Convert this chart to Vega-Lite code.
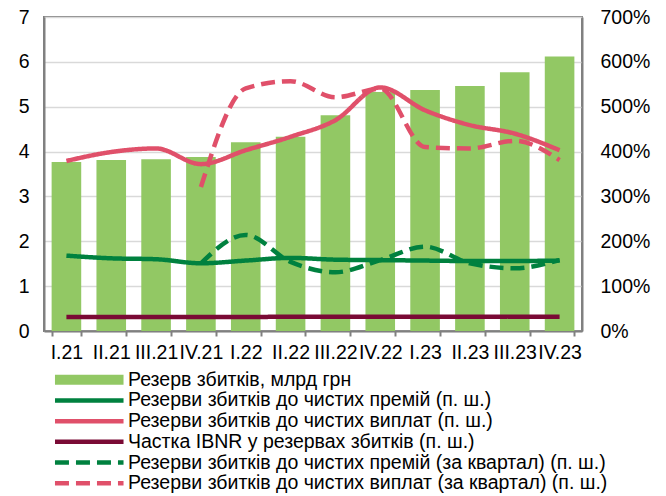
{
  "$schema": "https://vega.github.io/schema/vega-lite/v6.json",
  "width": 538,
  "height": 314,
  "autosize": "none",
  "padding": {"left": 44, "top": 17, "right": 84, "bottom": 165},
  "config": {
    "font": "Liberation Sans",
    "view": {"stroke": "#808080", "strokeWidth": 2},
    "axis": {"labelFont": "Liberation Sans", "labelFontSize": 19.5, "labelColor": "#000000", "domainColor": "#808080", "domainWidth": 2, "gridColor": "#D9D9D9", "gridWidth": 1.5, "tickColor": "#808080", "tickWidth": 2}
  },
  "datasets": {
    "bars": [
      {"q": "I.21", "series": "Резерв збитків, млрд грн", "reserve": 3.77},
      {"q": "II.21", "series": "Резерв збитків, млрд грн", "reserve": 3.81},
      {"q": "III.21", "series": "Резерв збитків, млрд грн", "reserve": 3.83},
      {"q": "IV.21", "series": "Резерв збитків, млрд грн", "reserve": 3.88},
      {"q": "I.22", "series": "Резерв збитків, млрд грн", "reserve": 4.21},
      {"q": "II.22", "series": "Резерв збитків, млрд грн", "reserve": 4.33},
      {"q": "III.22", "series": "Резерв збитків, млрд грн", "reserve": 4.81},
      {"q": "IV.22", "series": "Резерв збитків, млрд грн", "reserve": 5.33},
      {"q": "I.23", "series": "Резерв збитків, млрд грн", "reserve": 5.37},
      {"q": "II.23", "series": "Резерв збитків, млрд грн", "reserve": 5.46},
      {"q": "III.23", "series": "Резерв збитків, млрд грн", "reserve": 5.77},
      {"q": "IV.23", "series": "Резерв збитків, млрд грн", "reserve": 6.12}
    ],
    "lines": [
      {"q": "I.21", "series": "Резерви збитків до чистих премій (п. ш.)", "value": 168},
      {"q": "II.21", "series": "Резерви збитків до чистих премій (п. ш.)", "value": 162},
      {"q": "III.21", "series": "Резерви збитків до чистих премій (п. ш.)", "value": 160},
      {"q": "IV.21", "series": "Резерви збитків до чистих премій (п. ш.)", "value": 151},
      {"q": "I.22", "series": "Резерви збитків до чистих премій (п. ш.)", "value": 157},
      {"q": "II.22", "series": "Резерви збитків до чистих премій (п. ш.)", "value": 163},
      {"q": "III.22", "series": "Резерви збитків до чистих премій (п. ш.)", "value": 159},
      {"q": "IV.22", "series": "Резерви збитків до чистих премій (п. ш.)", "value": 158},
      {"q": "I.23", "series": "Резерви збитків до чистих премій (п. ш.)", "value": 157},
      {"q": "II.23", "series": "Резерви збитків до чистих премій (п. ш.)", "value": 156},
      {"q": "III.23", "series": "Резерви збитків до чистих премій (п. ш.)", "value": 156},
      {"q": "IV.23", "series": "Резерви збитків до чистих премій (п. ш.)", "value": 157},
      {"q": "I.21", "series": "Резерви збитків до чистих виплат (п. ш.)", "value": 379},
      {"q": "II.21", "series": "Резерви збитків до чистих виплат (п. ш.)", "value": 399},
      {"q": "III.21", "series": "Резерви збитків до чистих виплат (п. ш.)", "value": 407},
      {"q": "IV.21", "series": "Резерви збитків до чистих виплат (п. ш.)", "value": 372},
      {"q": "I.22", "series": "Резерви збитків до чистих виплат (п. ш.)", "value": 403},
      {"q": "II.22", "series": "Резерви збитків до чистих виплат (п. ш.)", "value": 433},
      {"q": "III.22", "series": "Резерви збитків до чистих виплат (п. ш.)", "value": 470},
      {"q": "IV.22", "series": "Резерви збитків до чистих виплат (п. ш.)", "value": 543},
      {"q": "I.23", "series": "Резерви збитків до чистих виплат (п. ш.)", "value": 492},
      {"q": "II.23", "series": "Резерви збитків до чистих виплат (п. ш.)", "value": 459},
      {"q": "III.23", "series": "Резерви збитків до чистих виплат (п. ш.)", "value": 440},
      {"q": "IV.23", "series": "Резерви збитків до чистих виплат (п. ш.)", "value": 403},
      {"q": "I.21", "series": "Частка IBNR у резервах збитків (п. ш.)", "value": 31},
      {"q": "II.21", "series": "Частка IBNR у резервах збитків (п. ш.)", "value": 31},
      {"q": "III.21", "series": "Частка IBNR у резервах збитків (п. ш.)", "value": 31},
      {"q": "IV.21", "series": "Частка IBNR у резервах збитків (п. ш.)", "value": 31},
      {"q": "I.22", "series": "Частка IBNR у резервах збитків (п. ш.)", "value": 31},
      {"q": "II.22", "series": "Частка IBNR у резервах збитків (п. ш.)", "value": 32},
      {"q": "III.22", "series": "Частка IBNR у резервах збитків (п. ш.)", "value": 32},
      {"q": "IV.22", "series": "Частка IBNR у резервах збитків (п. ш.)", "value": 32},
      {"q": "I.23", "series": "Частка IBNR у резервах збитків (п. ш.)", "value": 32},
      {"q": "II.23", "series": "Частка IBNR у резервах збитків (п. ш.)", "value": 32},
      {"q": "III.23", "series": "Частка IBNR у резервах збитків (п. ш.)", "value": 32},
      {"q": "IV.23", "series": "Частка IBNR у резервах збитків (п. ш.)", "value": 32},
      {"q": "IV.21", "series": "Резерви збитків до чистих премій (за квартал) (п. ш.)", "value": 151},
      {"q": "I.22", "series": "Резерви збитків до чистих премій (за квартал) (п. ш.)", "value": 214},
      {"q": "II.22", "series": "Резерви збитків до чистих премій (за квартал) (п. ш.)", "value": 154},
      {"q": "III.22", "series": "Резерви збитків до чистих премій (за квартал) (п. ш.)", "value": 131},
      {"q": "IV.22", "series": "Резерви збитків до чистих премій (за квартал) (п. ш.)", "value": 158},
      {"q": "I.23", "series": "Резерви збитків до чистих премій (за квартал) (п. ш.)", "value": 188},
      {"q": "II.23", "series": "Резерви збитків до чистих премій (за квартал) (п. ш.)", "value": 151},
      {"q": "III.23", "series": "Резерви збитків до чистих премій (за квартал) (п. ш.)", "value": 140},
      {"q": "IV.23", "series": "Резерви збитків до чистих премій (за квартал) (п. ш.)", "value": 158},
      {"q": "IV.21", "series": "Резерви збитків до чистих виплат (за квартал) (п. ш.)", "value": 321},
      {"q": "I.22", "series": "Резерви збитків до чистих виплат (за квартал) (п. ш.)", "value": 541},
      {"q": "II.22", "series": "Резерви збитків до чистих виплат (за квартал) (п. ш.)", "value": 557},
      {"q": "III.22", "series": "Резерви збитків до чистих виплат (за квартал) (п. ш.)", "value": 521},
      {"q": "IV.22", "series": "Резерви збитків до чистих виплат (за квартал) (п. ш.)", "value": 540},
      {"q": "I.23", "series": "Резерви збитків до чистих виплат (за квартал) (п. ш.)", "value": 410},
      {"q": "II.23", "series": "Резерви збитків до чистих виплат (за квартал) (п. ш.)", "value": 407},
      {"q": "III.23", "series": "Резерви збитків до чистих виплат (за квартал) (п. ш.)", "value": 424},
      {"q": "IV.23", "series": "Резерви збитків до чистих виплат (за квартал) (п. ш.)", "value": 381}
    ]
  },
  "encoding": {
    "x": {
      "field": "q",
      "type": "ordinal",
      "sort": ["I.21", "II.21", "III.21", "IV.21", "I.22", "II.22", "III.22", "IV.22", "I.23", "II.23", "III.23", "IV.23"],
      "scale": {"paddingInner": 0.34, "paddingOuter": 0.17},
      "axis": {"title": null, "labelAngle": 0, "labelOverlap": false, "tickBand": "extent", "tickSize": 5, "labelPadding": 7, "grid": false}
    }
  },
  "layer": [
    {
      "data": {"name": "bars"},
      "mark": {"type": "bar"},
      "encoding": {
        "y": {
          "field": "reserve",
          "type": "quantitative",
          "scale": {"domain": [0, 7]},
          "axis": {"title": null, "orient": "left", "values": [0, 1, 2, 3, 4, 5, 6, 7], "ticks": false, "labelPadding": 15, "grid": true}
        },
        "color": {
          "field": "series",
          "type": "nominal",
          "scale": {
            "domain": ["Резерв збитків, млрд грн", "Резерви збитків до чистих премій (п. ш.)", "Резерви збитків до чистих виплат (п. ш.)", "Частка IBNR у резервах збитків (п. ш.)", "Резерви збитків до чистих премій (за квартал) (п. ш.)", "Резерви збитків до чистих виплат (за квартал) (п. ш.)"],
            "range": ["#92C864", "#00813F", "#E0506A", "#7A0A35", "#00813F", "#E0506A"]
          },
          "legend": {
            "title": null,
            "orient": "none",
            "legendX": 35.5,
            "legendY": 353,
            "direction": "vertical",
            "padding": 0,
            "rowPadding": -0.3,
            "symbolType": "stroke",
            "symbolSize": 4700,
            "labelFontSize": 19.5,
            "labelFont": "Liberation Sans",
            "labelColor": "#000000",
            "labelLimit": 1000,
            "labelOffset": 29,
            "encode": {
              "symbols": {
                "update": {
                  "shape": {"signal": "datum.value === 'Резерв збитків, млрд грн' ? 'M-1,-0.147H1V0.147H-1Z' : 'stroke'"},
                  "fill": {"signal": "datum.value === 'Резерв збитків, млрд грн' ? '#92C864' : 'transparent'"},
                  "stroke": {"scale": "color", "field": "value"},
                  "strokeWidth": {"signal": "datum.value === 'Резерв збитків, млрд грн' ? 0 : 4.5"},
                  "strokeDash": {"signal": "indexof(datum.value, 'за квартал') >= 0 ? [14, 7] : [1, 0]"},
                  "opacity": {"value": 1}
                }
              }
            }
          }
        }
      }
    },
    {
      "data": {"name": "lines"},
      "mark": {"type": "line", "strokeWidth": 4.5, "interpolate": "monotone"},
      "encoding": {
        "y": {
          "field": "value",
          "type": "quantitative",
          "scale": {"domain": [0, 700]},
          "axis": {"title": null, "orient": "right", "values": [0, 100, 200, 300, 400, 500, 600, 700], "ticks": false, "labelPadding": 18, "grid": false, "labelExpr": "datum.value + '%'"}
        },
        "color": {"field": "series", "type": "nominal"},
        "strokeDash": {
          "field": "series",
          "type": "nominal",
          "scale": {
            "domain": ["Резерви збитків до чистих премій (п. ш.)", "Резерви збитків до чистих виплат (п. ш.)", "Частка IBNR у резервах збитків (п. ш.)", "Резерви збитків до чистих премій (за квартал) (п. ш.)", "Резерви збитків до чистих виплат (за квартал) (п. ш.)"],
            "range": [[1, 0], [1, 0], [1, 0], [14, 7], [14, 7]]
          },
          "legend": null
        }
      }
    }
  ],
  "resolve": {"scale": {"y": "independent"}}
}
